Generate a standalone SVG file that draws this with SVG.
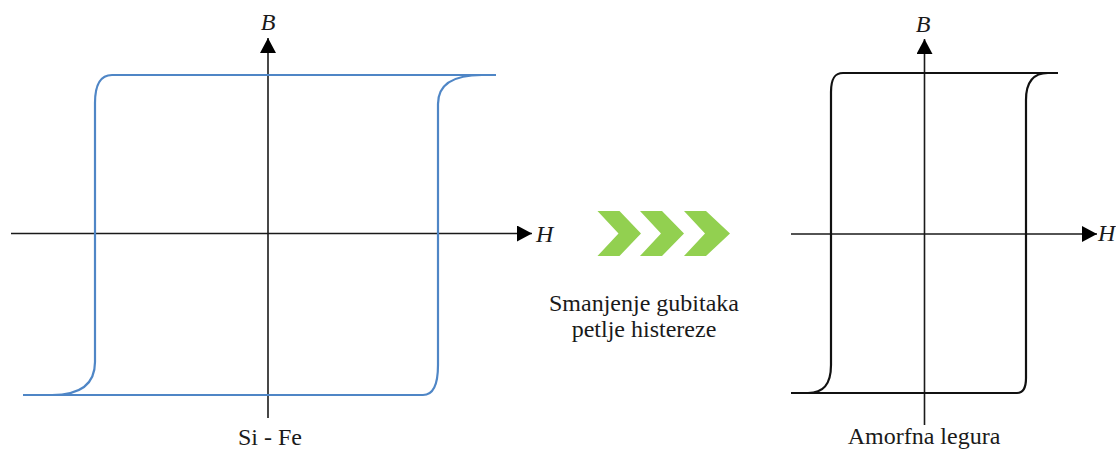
<svg xmlns="http://www.w3.org/2000/svg" width="1116" height="450" viewBox="0 0 1116 450">
<style>
.axis{stroke:#1a1a1a;stroke-width:1.6;fill:none}
.blue{stroke:#4F86C6;stroke-width:2.2;fill:none}
.black{stroke:#111;stroke-width:2.2;fill:none}
.lbl{font-family:'Liberation Serif','DejaVu Serif',serif;font-size:24px;fill:#1a1a1a}
.it{font-style:italic}
.chev{fill:#92D050}
</style>
<defs>
<marker id="arr" viewBox="0 0 15 16" refX="15" refY="8" markerWidth="15" markerHeight="16" orient="auto" markerUnits="userSpaceOnUse">
<path d="M0,0 L15,8 L0,16 z" fill="#000"/>
</marker>
</defs>
<rect width="1116" height="450" fill="#fff"/>
<g id="connectors">
<line class="axis" x1="268" y1="418" x2="268" y2="38" marker-end="url(#arr)"/>
<line class="axis" x1="11" y1="233.5" x2="532" y2="233.5" marker-end="url(#arr)"/>
<line class="axis" x1="924.5" y1="425" x2="924.5" y2="39" marker-end="url(#arr)"/>
<line class="axis" x1="791" y1="234" x2="1097" y2="234" marker-end="url(#arr)"/>
</g>
<g id="sife-loop">
<path class="blue" d="M496,75 L112,75 C101,75 95,84 95,103 L95,362 C95,384 80,395 52,395 L23,395"/>
<path class="blue" d="M23,395 L423,395 C432,395 438,387 438,365 L438,104 C438,85 452,75 482,75 L496,75"/>
</g>
<g id="amorf-loop">
<path class="black" d="M1058,73 L843,73 C835,73 831,78 831,92 L831,365 C831,385 823,393 808,393 L791,393"/>
<path class="black" d="M791,393 L1017,393 C1023,393 1026,389 1026,378 L1026,100 C1026,82 1033,73 1048,73 L1058,73"/>
</g>
<g id="chevrons">
<polygon class="chev" points="597.5,211 619.5,211 641,233.5 619.5,256 597.5,256 618.5,233.5"/>
<polygon class="chev" points="640,211 662,211 684,233.5 662,256 640,256 661,233.5"/>
<polygon class="chev" points="684,211 706,211 730,233.5 706,256 684,256 705,233.5"/>
</g>
<g id="labels">
<text class="lbl it" x="268" y="30" text-anchor="middle">B</text>
<text class="lbl it" x="536" y="242">H</text>
<text class="lbl it" x="923" y="32" text-anchor="middle">B</text>
<text class="lbl it" x="1098" y="241">H</text>
<text class="lbl" x="270" y="445" text-anchor="middle" font-family="Liberation Serif, serif">Si - Fe</text>
<text class="lbl" x="924" y="444" text-anchor="middle">Amorfna legura</text>
<text class="lbl" x="644" y="311" text-anchor="middle">Smanjenje gubitaka</text>
<text class="lbl" x="644" y="337" text-anchor="middle">petlje histereze</text>
</g>
</svg>
